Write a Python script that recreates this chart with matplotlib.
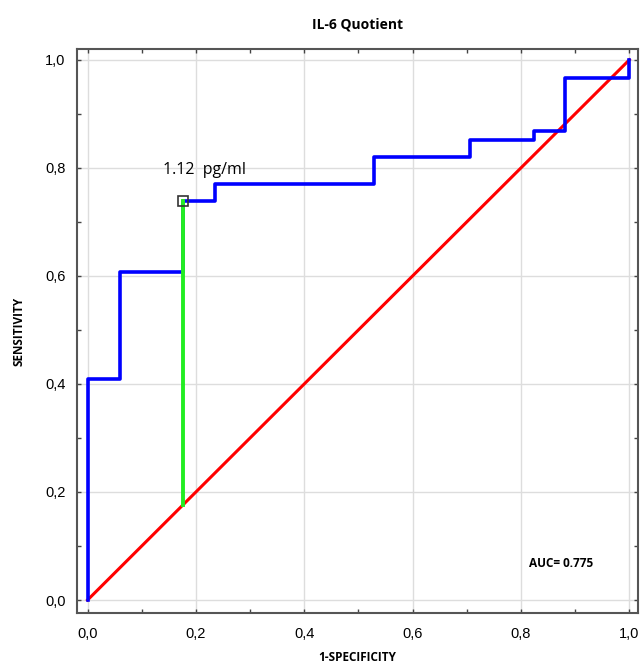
import matplotlib
matplotlib.use('Agg')
import matplotlib.pyplot as plt
from matplotlib.ticker import MultipleLocator, FuncFormatter

# ROC curve step points (1-specificity, sensitivity)
fpr = [0.0, 0.0, 0.059, 0.059, 0.176, 0.176, 0.235, 0.235, 0.529, 0.529,
       0.706, 0.706, 0.824, 0.824, 0.882, 0.882, 1.0, 1.0]
tpr = [0.0, 0.410, 0.410, 0.607, 0.607, 0.738, 0.738, 0.770, 0.770, 0.820,
       0.820, 0.852, 0.852, 0.869, 0.869, 0.967, 0.967, 1.0]

# reference diagonal
diag_x = [0.0, 1.0]
diag_y = [0.0, 1.0]

# cut-off point
cut_x = 0.176
cut_y = 0.738
cut_label = "1.12  pg/ml"
auc = 0.775

fig = plt.figure(figsize=(6.42, 6.66), dpi=100)
ax = fig.add_axes([0.1195, 0.0796, 0.8743, 0.8468])

ax.plot(diag_x, diag_y, color='#ff0000', lw=2.2, zorder=3)
ax.plot(fpr, tpr, color='#0000ff', lw=2.6, zorder=4)
ax.plot([cut_x, cut_x], [cut_x, cut_y], color='#22ee22', lw=2.8, zorder=5)
ax.plot([cut_x], [cut_y], marker='s', ms=7, mfc='none', mec='#333333', mew=1.2, zorder=6)

ax.text(0.14, 0.796, cut_label, fontsize=11.5, family='Open Sans', va='center', ha='left')
ax.text(0.815, 0.067, f"AUC= {auc}", fontsize=8.5, family='Open Sans', fontweight='bold',
        va='center', ha='left')

ax.set_xlim(-0.02, 1.016)
ax.set_ylim(-0.024, 1.02)
ax.xaxis.set_major_locator(MultipleLocator(0.2))
ax.yaxis.set_major_locator(MultipleLocator(0.2))
ax.xaxis.set_minor_locator(MultipleLocator(0.1))
ax.yaxis.set_minor_locator(MultipleLocator(0.1))
fmt = FuncFormatter(lambda v, p: f"{v:.1f}".replace('.', ','))
ax.xaxis.set_major_formatter(fmt)
ax.yaxis.set_major_formatter(fmt)

ax.tick_params(which='both', direction='in', top=True, right=True, length=3,
               width=1, color='#444444', labelsize=10.5)
ax.tick_params(axis='x', pad=10)
ax.tick_params(axis='y', pad=8)
for lab in ax.get_xticklabels() + ax.get_yticklabels():
    lab.set_family('Liberation Sans')

ax.grid(True, which='major', color='#dddddd', lw=1)
ax.set_axisbelow(True)
for s in ax.spines.values():
    s.set_color('#555555')
    s.set_linewidth(1.5)

ax.set_title("IL-6 Quotient", fontsize=10, family='Open Sans', fontweight='bold', pad=15)
ax.set_xlabel("1-SPECIFICITY", fontsize=8.5, family='Open Sans', fontweight='bold', labelpad=7)
ax.set_ylabel("SENSITIVITY", fontsize=8.5, family='Open Sans', fontweight='bold', labelpad=14)

fig.savefig("out.png", dpi=100)
